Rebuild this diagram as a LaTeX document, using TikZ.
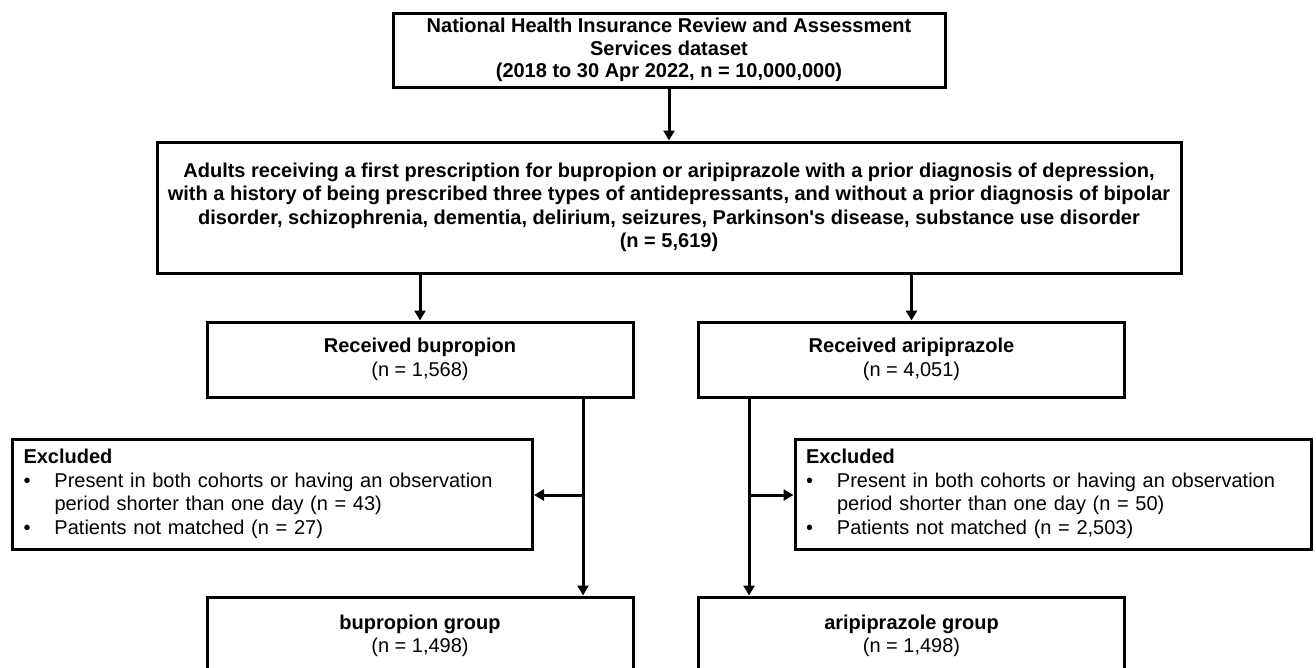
\documentclass[tikz,border=0pt]{standalone}
\usepackage{fontspec}
\setmainfont{Liberation Sans}
\usetikzlibrary{arrows.meta,positioning}

\newcommand\bul{\makebox[31pt][l]{\textbullet}}

\begin{document}
\begin{tikzpicture}[x=1pt,y=-1pt]

    \tikzset{
      box/.style={
        draw,
        line width=3pt,
        align=center,
        inner sep=0pt,
        font=\fontsize{20}{23.5}\selectfont,
      },
      exbox/.style={
        box,
        align=left,
        text width=498pt,
        inner xsep=11pt,
        minimum height=110pt,
      },
      arr/.style={
        line width=3pt,
        -{Triangle[length=10pt,width=11pt]},
      },
    }
    \useasboundingbox (0,0) rectangle (1316,667);
    \clip (0,0) rectangle (1316,667);
    % top of the flow
    \node[box, minimum width=552pt, minimum height=74pt, font=\fontsize{20}{22.5}\selectfont\bfseries] (nhis) at (669,50)
      {National Health Insurance Review and Assessment\\ Services dataset\\ (2018 to 30 Apr 2022, n = 10,000,000)};
    \node[box, minimum width=1024pt, minimum height=131pt, font=\fontsize{20}{23.5}\selectfont\bfseries] (adults) at (669,207.5)
      {Adults receiving a first prescription for bupropion or aripiprazole with a prior diagnosis of depression,\\
       with a history of being prescribed three types of antidepressants, and without a prior diagnosis of bipolar\\
       disorder, schizophrenia, dementia, delirium, seizures, Parkinson\textquotesingle s disease, substance use disorder\\
       (n = 5,619)};
    \node[box, minimum width=426pt, minimum height=75pt] (bup) at (420,359.5) {\textbf{Received bupropion}\\ (n = 1,568)};
    \node[box, minimum width=426pt, minimum height=75pt] (ari) at (911.5,359.5) {\textbf{Received aripiprazole}\\ (n = 4,051)};
    % exclusions
    \node[exbox] (exl) at (272.5,494)
      {\textbf{Excluded}\\ \bul Present in both cohorts or having an observation\\ \hspace*{31pt}period shorter than one day (n = 43)\\ \bul Patients not matched (n = 27)};
    \node[exbox, text width=494pt] (exr) at (1053,494)
      {\textbf{Excluded}\\ \bul Present in both cohorts or having an observation\\ \hspace*{31pt}period shorter than one day (n = 50)\\ \bul Patients not matched (n = 2,503)};
    \node[box, minimum width=426pt, minimum height=78pt] (bupgrp) at (420,636) {\textbf{bupropion group}\\ (n = 1,498)};
    \node[box, minimum width=426pt, minimum height=78pt] (arigrp) at (911.5,636) {\textbf{aripiprazole group}\\ (n = 1,498)};
    \coordinate (lsplit) at (583,495);
    \coordinate (rsplit) at (749,495);

    \draw[arr] (nhis.south) -- (adults.north);
    \draw[arr] (adults.south -| bup.north) -- (bup.north);
    \draw[arr] (adults.south -| ari.north) -- (ari.north);
    \draw[arr] (bup.south -| lsplit) -- (bupgrp.north -| lsplit);
    \draw[arr] (lsplit) -- (exl.east |- lsplit);
    \draw[arr] (ari.south -| rsplit) -- (arigrp.north -| rsplit);
    \draw[arr] (rsplit) -- (exr.west |- rsplit);

\end{tikzpicture}
\end{document}
